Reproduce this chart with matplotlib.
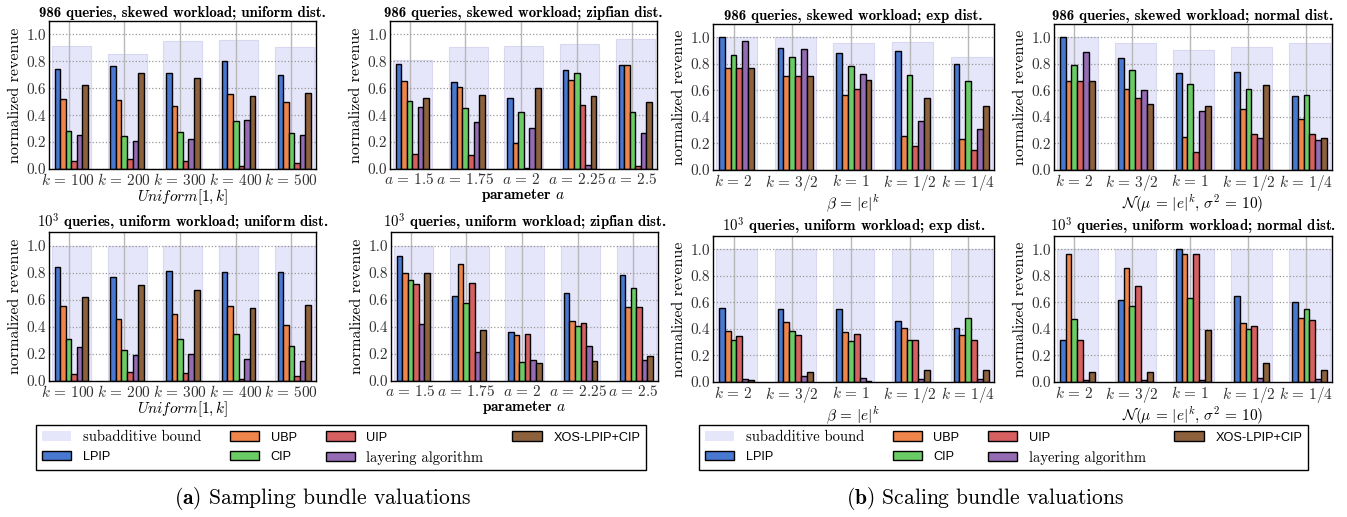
import matplotlib
matplotlib.use('Agg')
import matplotlib.pyplot as plt
from matplotlib.patches import Patch
from matplotlib.ticker import FormatStrFormatter
import numpy as np

plt.rcParams['font.family'] = 'cmr10'
plt.rcParams['mathtext.fontset'] = 'cm'
plt.rcParams['axes.unicode_minus'] = False
plt.rcParams['axes.formatter.use_mathtext'] = True

# series (order inside each group)
series = ['LPIP', 'UBP', 'CIP', 'UIP', 'layering algorithm', 'XOS-LPIP+CIP']
colors = ['#4878D0', '#EE854A', '#6ACC64', '#D65F5F', '#956CB4', '#8C613C']
bound_color = '#E6E6FA'

# tick labels
k_uniform = [r'$k\,=\,100$', r'$k\,=\,200$', r'$k\,=\,300$', r'$k\,=\,400$', r'$k\,=\,500$']
a_zipf = [r'$a\,=\,1.5$', r'$a\,=\,1.75$', r'$a\,=\,2$', r'$a\,=\,2.25$', r'$a\,=\,2.5$']
k_scale = [r'$k\,=\,2$', r'$k\,=\,3/2$', r'$k\,=\,1$', r'$k\,=\,1/2$', r'$k\,=\,1/4$']

# 986 queries, skewed workload
skew_unif_bound = [0.911, 0.852, 0.953, 0.961, 0.909]
skew_unif = [[0.744, 0.768, 0.714, 0.805, 0.702],
             [0.520, 0.512, 0.468, 0.554, 0.495],
             [0.286, 0.244, 0.273, 0.357, 0.264],
             [0.059, 0.074, 0.059, 0.020, 0.042],
             [0.251, 0.207, 0.224, 0.367, 0.249],
             [0.623, 0.712, 0.677, 0.542, 0.564]]

skew_zipf_bound = [0.810, 0.904, 0.911, 0.926, 0.963]
skew_zipf = [[0.783, 0.643, 0.525, 0.736, 0.773],
             [0.655, 0.611, 0.195, 0.665, 0.773],
             [0.502, 0.451, 0.421, 0.712, 0.426],
             [0.111, 0.101, 0.007, 0.473, 0.022],
             [0.458, 0.350, 0.308, 0.027, 0.268],
             [0.525, 0.549, 0.603, 0.539, 0.500]]

skew_exp_bound = [1.0, 1.0, 0.955, 0.962, 0.852]
skew_exp = [[1.000, 0.917, 0.884, 0.897, 0.796],
            [0.771, 0.711, 0.568, 0.256, 0.236],
            [0.864, 0.854, 0.784, 0.719, 0.668],
            [0.771, 0.711, 0.608, 0.181, 0.151],
            [0.970, 0.910, 0.721, 0.367, 0.307],
            [0.771, 0.711, 0.678, 0.545, 0.482]]

skew_norm_bound = [1.0, 0.955, 0.902, 0.925, 0.955]
skew_norm = [[1.000, 0.842, 0.734, 0.739, 0.560],
             [0.671, 0.611, 0.251, 0.462, 0.384],
             [0.794, 0.751, 0.646, 0.613, 0.568],
             [0.671, 0.540, 0.133, 0.274, 0.271],
             [0.889, 0.600, 0.442, 0.241, 0.229],
             [0.671, 0.500, 0.480, 0.638, 0.241]]

# 10^3 queries, uniform workload
unif_unif_bound = [1.0, 1.0, 1.0, 1.0, 1.0]
unif_unif = [[0.844, 0.767, 0.812, 0.804, 0.802],
             [0.557, 0.458, 0.498, 0.554, 0.411],
             [0.312, 0.228, 0.309, 0.344, 0.260],
             [0.054, 0.067, 0.057, 0.017, 0.037],
             [0.248, 0.193, 0.198, 0.161, 0.146],
             [0.621, 0.708, 0.673, 0.540, 0.562]]

unif_zipf_bound = [1.0, 1.0, 1.0, 1.0, 1.0]
unif_zipf = [[0.921, 0.626, 0.364, 0.646, 0.780],
             [0.797, 0.864, 0.342, 0.446, 0.547],
             [0.748, 0.577, 0.139, 0.403, 0.686],
             [0.715, 0.723, 0.344, 0.426, 0.547],
             [0.421, 0.215, 0.156, 0.255, 0.158],
             [0.797, 0.374, 0.134, 0.144, 0.181]]

unif_exp_bound = [1.0, 1.0, 1.0, 1.0, 1.0]
unif_exp = [[0.558, 0.550, 0.550, 0.460, 0.410],
            [0.384, 0.452, 0.377, 0.410, 0.357],
            [0.317, 0.384, 0.309, 0.317, 0.485],
            [0.349, 0.357, 0.364, 0.317, 0.317],
            [0.025, 0.048, 0.033, 0.025, 0.025],
            [0.018, 0.078, 0.010, 0.093, 0.093]]

unif_norm_bound = [1.0, 1.0, 1.0, 1.0, 1.0]
unif_norm = [[0.319, 0.621, 1.000, 0.646, 0.600],
             [0.962, 0.862, 0.962, 0.445, 0.482],
             [0.472, 0.573, 0.636, 0.402, 0.550],
             [0.319, 0.724, 0.962, 0.422, 0.470],
             [0.018, 0.018, 0.018, 0.030, 0.025],
             [0.073, 0.073, 0.389, 0.143, 0.090]]

W, H = 1347, 517
fig = plt.figure(figsize=(W / 100, H / 100), dpi=100)


def px_axes(l, t, r, b):
    return fig.add_axes([l / W, 1 - b / H, (r - l) / W, (b - t) / H])


def panel(ax, title, ticks, xlabel, bound, values):
    x = np.arange(len(ticks))
    w = 0.1
    ax.bar(x + 0.05, bound, width=0.7, color=bound_color,
           edgecolor='#d8d8f0', linewidth=0.8, zorder=0.2)
    for j, vals in enumerate(values):
        ax.bar(x + (j - 2) * w, vals, width=w, color=colors[j],
               edgecolor='black', linewidth=1, zorder=2)
    ax.set_axisbelow(True)
    ax.grid(axis='x', color='#b8b8b8', linestyle='-', linewidth=1)
    ax.grid(axis='y', color='#999999', linestyle=':', linewidth=0.9)
    ax.set_xlim(-0.35, 4.44)
    ax.set_ylim(0, 1.1)
    ax.set_yticks(np.arange(0, 1.01, 0.2))
    ax.yaxis.set_major_formatter(FormatStrFormatter('%.1f'))
    ax.set_xticks(x, ticks)
    ax.tick_params(length=0, labelsize=11, colors='#333333', pad=2)
    for s in ax.spines.values():
        s.set_color('black')
        s.set_linewidth(1)
    ax.set_ylabel('normalized revenue', fontsize=11.5, labelpad=3)
    ax.set_xlabel(xlabel, fontsize=11, labelpad=0)
    ax.set_title(title, fontsize=10.7, fontfamily='cmb10', pad=3)


param_label = 'parameter $a$'
beta_label = r'$\beta\,=\,|e|^k$'
normal_label = r'$\mathcal{N}(\mu\,=\,|e|^k,\, \sigma^2\,=\,10)$'
panels = [
    ((49, 21, 316, 169), '986 queries, skewed workload; uniform dist.', k_uniform,
     r'$Uniform[1,k]$', skew_unif_bound, skew_unif),
    ((390, 21, 657, 169), '986 queries, skewed workload; zipfian dist.', a_zipf,
     param_label, skew_zipf_bound, skew_zipf),
    ((713, 24, 994, 170), '986 queries, skewed workload; exp dist.', k_scale,
     beta_label, skew_exp_bound, skew_exp),
    ((1054, 24, 1332, 170), '986 queries, skewed workload; normal dist.', k_scale,
     normal_label, skew_norm_bound, skew_norm),
    ((49, 232, 316, 381), r'$10^3$ queries, uniform workload; uniform dist.', k_uniform,
     r'$Uniform[1,k]$', unif_unif_bound, unif_unif),
    ((391, 232, 658, 381), r'$10^3$ queries, uniform workload; zipfian dist.', a_zipf,
     param_label, unif_zipf_bound, unif_zipf),
    ((713, 236, 994, 382), r'$10^3$ queries, uniform workload; exp dist.', k_scale,
     beta_label, unif_exp_bound, unif_exp),
    ((1054, 236, 1332, 382), r'$10^3$ queries, uniform workload; normal dist.', k_scale,
     normal_label, unif_norm_bound, unif_norm),
]

for rect, title, ticks, xlabel, bound, values in panels:
    ax = px_axes(*rect)
    panel(ax, title, ticks, xlabel, bound, values)
    if xlabel == param_label:
        ax.xaxis.label.set_fontfamily('cmb10')

# legends
handles = [Patch(facecolor=bound_color, edgecolor='none', label='subadditive bound')]
handles += [Patch(facecolor=c, edgecolor='black', linewidth=1, label=s)
            for c, s in zip(colors, series)]

for (l, r, capx, cap) in [(36, 646, 322, r'$\mathbf{(a)}$ Sampling bundle valuations'),
                          (699, 1308, 985, r'$\mathbf{(b)}$ Scaling bundle valuations')]:
    leg = fig.legend(handles=handles, ncol=4, mode='expand', loc='center',
                     bbox_to_anchor=(l / W, 1 - 470 / H, (r - l) / W, 45 / H),
                     fontsize=10.5, fancybox=False, framealpha=1, edgecolor='black',
                     handlelength=2.0, handleheight=0.6, borderpad=0.4,
                     labelspacing=0.45, borderaxespad=0)
    leg.get_frame().set_linewidth(1)
    for t in leg.get_texts():
        if t.get_text() in ('LPIP', 'UBP', 'CIP', 'UIP', 'XOS-LPIP+CIP'):
            t.set_fontfamily('Liberation Sans')
            t.set_fontsize(9.2)
    fig.text(capx / W, 1 - 498 / H, cap, ha='center', va='center', fontsize=15.5)

fig.savefig('out.png', dpi=100)
